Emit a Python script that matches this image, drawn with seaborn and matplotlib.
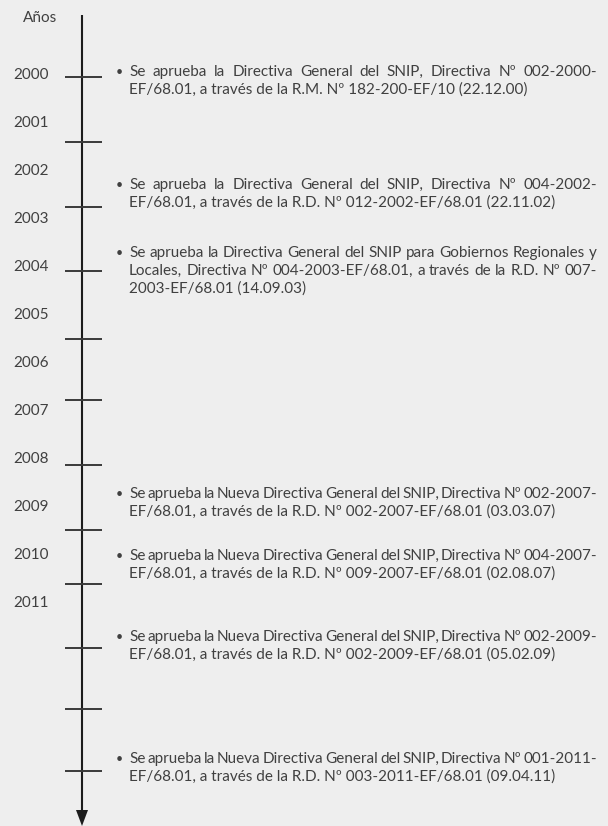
import matplotlib.pyplot as plt
import seaborn as sns

# --- data -----------------------------------------------------------------
years = [str(y) for y in range(2000, 2012)]

# tick marks along the time line, in "year row" units (row 0 = label 2000)
tick_rows = [0.04, 1.40, 2.75, 4.08, 5.50, 6.77, 8.13, 9.48, 10.60, 11.94, 13.21, 14.50]

events = [
    ["Se aprueba la Directiva General del SNIP, Directiva Nº 002-2000-",
     "EF/68.01, a través de la R.M. Nº 182-200-EF/10 (22.12.00)"],
    ["Se aprueba la Directiva General del SNIP, Directiva Nº 004-2002-",
     "EF/68.01, a través de la R.D. Nº 012-2002-EF/68.01 (22.11.02)"],
    ["Se aprueba la Directiva General del SNIP para Gobiernos Regionales y",
     "Locales, Directiva Nº 004-2003-EF/68.01, a través de la R.D. Nº 007-",
     "2003-EF/68.01 (14.09.03)"],
    ["Se aprueba la Nueva Directiva General del SNIP, Directiva Nº 002-2007-",
     "EF/68.01, a través de la R.D. Nº 002-2007-EF/68.01 (03.03.07)"],
    ["Se aprueba la Nueva Directiva General del SNIP, Directiva Nº 004-2007-",
     "EF/68.01, a través de la R.D. Nº 009-2007-EF/68.01 (02.08.07)"],
    ["Se aprueba la Nueva Directiva General del SNIP, Directiva Nº 002-2009-",
     "EF/68.01, a través de la R.D. Nº 002-2009-EF/68.01 (05.02.09)"],
    ["Se aprueba la Nueva Directiva General del SNIP, Directiva Nº 001-2011-",
     "EF/68.01, a través de la R.D. Nº 003-2011-EF/68.01 (09.04.11)"],
]
event_rows = [-0.06, 2.29, 3.71, 8.73, 10.02, 11.71, 14.25]

# --- layout ---------------------------------------------------------------
ROW_PX = 48.0
TOP_PX = 75.0
W, H = 608, 826
BG = "#eeeeee"
TXT = "#404040"
LINE = "#1c1c1c"
LINE_STEP = 17.5 / ROW_PX


def row(px):
    return (px - TOP_PX) / ROW_PX


def draw_justified(ax, renderer, line, x0, x1, y, justify, **kw):
    if not justify:
        ax.text(x0, y, line, ha="left", va="center", **kw)
        return
    words = line.split(" ")
    arts = [ax.text(0, y, w, ha="left", va="center", **kw) for w in words]
    widths = [a.get_window_extent(renderer).width for a in arts]
    gap = (x1 - x0 - sum(widths)) / max(len(words) - 1, 1)
    x = x0
    for a, w in zip(arts, widths):
        a.set_x(x)
        x += w + gap


sns.set_theme(style="white")
plt.rcParams["font.family"] = ["Lato", "DejaVu Sans"]

fig = plt.figure(figsize=(W / 100, H / 100), dpi=100)
fig.patch.set_facecolor(BG)
ax = fig.add_axes([0, 0, 1, 1])
ax.set_facecolor(BG)
ax.set_xlim(0, W)
ax.set_ylim(row(H), row(0))
ax.axis("off")
renderer = fig.canvas.get_renderer()

AXIS_X = 82
ax.plot([AXIS_X, AXIS_X], [row(15), row(812)], color=LINE, lw=1.5, solid_capstyle="butt")
ax.fill([AXIS_X - 6, AXIS_X + 6, AXIS_X], [row(810), row(810), row(826)], color=LINE, lw=0)

for r in tick_rows:
    ax.plot([65, 102], [r, r], color="#3a3a3a", lw=1.4, solid_capstyle="butt")

ax.text(23, row(18), "Años", ha="left", va="center", fontsize=11, color=TXT)
for i, yr in enumerate(years):
    ax.text(13, i, yr, ha="left", va="center", fontsize=11, color=TXT)

for lines, r in zip(events, event_rows):
    ax.text(116, r, "•", ha="left", va="center", fontsize=9, color=TXT)
    for k, ln in enumerate(lines):
        draw_justified(ax, renderer, ln, 129, 597, r + k * LINE_STEP,
                       justify=(k < len(lines) - 1), fontsize=11, color=TXT)

fig.savefig("out.png", dpi=100, facecolor=BG)
